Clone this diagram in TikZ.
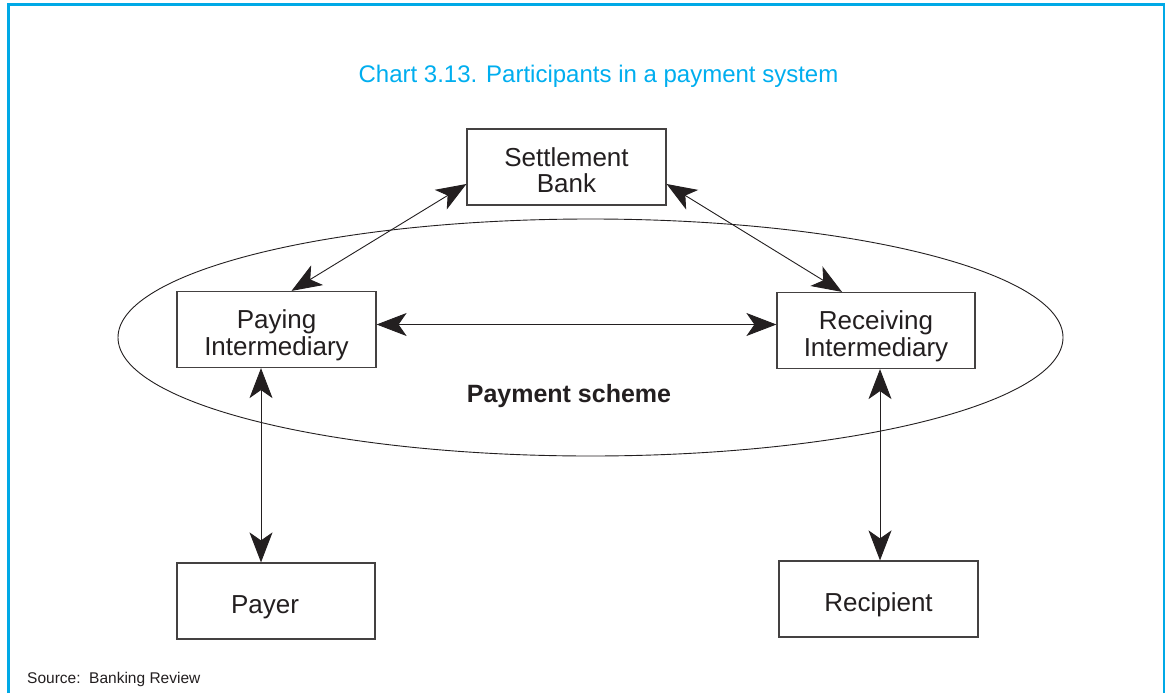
\documentclass[tikz,border=0pt]{standalone}
\usepackage{fontspec}
\setmainfont{Liberation Sans}
\usetikzlibrary{arrows.meta}
\definecolor{frameblue}{RGB}{0,169,230}
\definecolor{titleblue}{RGB}{0,174,239}
\definecolor{ink}{RGB}{35,31,32}
\newcommand{\bxtxt}[1]{\raisebox{-7pt}[\height][\depth]{\begin{tabular}{@{}c@{}}#1\end{tabular}}}
\tikzset{
  box/.style={draw=ink!85, line width=1.2pt, minimum width=199pt, minimum height=76pt,
    inner sep=0pt, align=center, text=ink, font=\fontsize{26}{26}\selectfont},
  conn/.style={draw=ink, line width=0.9pt,
    {Stealth[length=30pt,width=23pt,inset=8pt]}-{Stealth[length=30pt,width=23pt,inset=8pt]}},
}
\begin{document}
\begin{tikzpicture}[x=1pt,y=-1pt]
\useasboundingbox (0,0) rectangle (1166,693);
\fill[white] (0,0) rectangle (1166,693);
% frame
\draw[frameblue, line width=2.6pt] (8.2,693) -- (8.2,4.6) -- (1163.8,4.6) -- (1163.8,693);
% title
\node[anchor=base, text=titleblue, font=\fontsize{24}{28}\selectfont] (title) at (598.5,82) {Chart 3.13. Participants in a payment system};
% ellipse
\draw[ink, line width=0.9pt] (590.5,337.5) ellipse [x radius=472.5, y radius=118.5];
\node[anchor=base, text=ink, font=\fontsize{25}{28}\selectfont\bfseries] (scheme) at (569,402) {Payment scheme};
% boxes
\node[box] (sb) at (566.5,167) {\bxtxt{Settlement\\Bank}};
\node[box] (pi) at (276.5,329.5) {\bxtxt{Paying\\Intermediary}};
\node[box, minimum width=198pt] (ri) at (876,330.5) {\bxtxt{Receiving\\Intermediary}};
\node[box, minimum width=198pt] (payer) at (276,601) {\bxtxt{\hspace*{-22pt}Payer}};
\node[box] (rec) at (878.5,599) {\bxtxt{Recipient}};
% connectors
\draw[conn] ([yshift=-17pt]sb.west) -- ([xshift=15pt]pi.north);
\draw[conn] ([yshift=-17pt]sb.east) -- ([xshift=-34pt]ri.north);
\draw[conn] ([yshift=5pt]pi.east) -- ([yshift=6pt]ri.west);
\draw[conn] ([xshift=-15.5pt]pi.south) -- ([xshift=-15pt]payer.north);
\draw[conn] ([xshift=4pt]ri.south) -- ([xshift=1.5pt]rec.north);
% source
\node[anchor=base west, text=ink, font=\fontsize{15.5}{18}\selectfont, inner sep=0pt] (src) at (27,683) {Source:\ \ Banking Review};
\end{tikzpicture}
\end{document}
